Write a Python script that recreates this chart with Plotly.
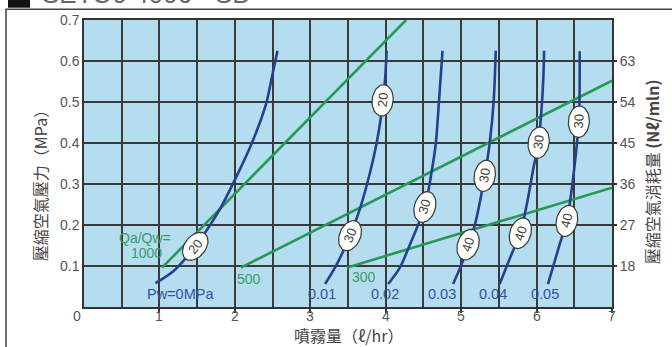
import numpy as np
import plotly.graph_objects as go

W, H = 672, 347
ML, MR, MT, MB = 84, 60, 15, 40
X_MAX, Y_MAX = 7.0, 0.7
PX_X = (W - ML - MR) / X_MAX
PX_Y = (H - MT - MB) / Y_MAX

BLUE = "#283f8e"
GREEN = "#27985a"
BG = "#b4def0"
GRID = "#3a3a3a"
TICK = "#555555"
FONT = "Liberation Sans"
CJK = "Noto Sans CJK TC"

# water pressure curves (x: spray l/hr, y: air pressure MPa)
pw_names = ["Pw=0MPa", "0.01", "0.02", "0.03", "0.04", "0.05"]
pw_x = [
    [0.946, 1.188, 1.475, 1.806, 2.005, 2.226, 2.415, 2.490, 2.565],
    [3.196, 3.351, 3.527, 3.659, 3.792, 3.880, 3.937, 3.959, 3.990, 4.012],
    [4.033, 4.188, 4.320, 4.519, 4.607, 4.665, 4.704, 4.753],
    [4.893, 5.005, 5.092, 5.181, 5.313, 5.379, 5.432, 5.459],
    [5.511, 5.660, 5.785, 5.870, 5.960, 6.025, 6.065, 6.090, 6.100],
    [6.151, 6.305, 6.402, 6.461, 6.527, 6.561, 6.570, 6.572],
]
pw_y = [
    [0.058, 0.088, 0.148, 0.240, 0.312, 0.400, 0.496, 0.560, 0.625],
    [0.056, 0.104, 0.174, 0.240, 0.328, 0.400, 0.464, 0.504, 0.552, 0.625],
    [0.056, 0.096, 0.152, 0.244, 0.328, 0.400, 0.496, 0.625],
    [0.056, 0.104, 0.152, 0.200, 0.320, 0.400, 0.504, 0.625],
    [0.056, 0.125, 0.180, 0.250, 0.340, 0.400, 0.480, 0.560, 0.625],
    [0.056, 0.152, 0.210, 0.280, 0.384, 0.452, 0.520, 0.624],
]
pw_label_x = [1.277, 3.156, 3.99, 4.744, 5.419, 6.107]
pw_label_y = 0.031

# Qa/Qw ratio lines
ratio_names = ["1000", "500", "300"]
ratio_x = [[1.035, 4.27], [2.080, 7.0], [3.483, 7.0]]
ratio_y = [[0.096, 0.70], [0.096, 0.552], [0.096, 0.291]]
ratio_label_x = [0.827, 2.19, 3.712]
ratio_label_y = [0.131, 0.069, 0.074]

# oval markers on the curves (curve index, x, y, text)
oval_curve = [0, 1, 1, 2, 3, 3, 4, 4, 5, 5]
oval_x = [1.475, 3.527, 3.959, 4.519, 5.092, 5.313, 5.785, 6.028, 6.402, 6.561]
oval_y = [0.148, 0.174, 0.504, 0.244, 0.152, 0.320, 0.180, 0.401, 0.210, 0.452]
oval_text = ["20", "30", "20", "30", "40", "30", "40", "30", "40", "30"]

left_ticks = [0.1, 0.2, 0.3, 0.4, 0.5, 0.6, 0.7]
right_ticks = [18, 27, 36, 45, 54, 63]
x_ticks = [1, 2, 3, 4, 5, 6, 7]


def tangent_deg(xs, ys, y, h=0.02):
    x1 = np.interp(y - h, ys, xs)
    x2 = np.interp(y + h, ys, xs)
    return np.degrees(np.arctan2(2 * h * PX_Y, (x2 - x1) * PX_X))


def ellipse(cx, cy, theta, a=16.0, b=10.5, n=48):
    t = np.linspace(0, 2 * np.pi, n)
    th = np.radians(theta)
    dx = a * np.cos(t) * np.cos(th) - b * np.sin(t) * np.sin(th)
    dy = a * np.cos(t) * np.sin(th) + b * np.sin(t) * np.cos(th)
    return cx + dx / PX_X, cy + dy / PX_Y


def px_to_paper(px, py):
    return (px - ML) / (W - ML - MR), (H - MB - py) / (H - MT - MB)


def paper_note(px, py, text, size, family=FONT, color=TICK, angle=0, xanchor="center"):
    x, y = px_to_paper(px, py)
    return dict(x=x, y=y, xref="paper", yref="paper", text=text, showarrow=False,
                xanchor=xanchor, yanchor="middle", textangle=angle,
                font=dict(family=family, size=size, color=color))


fig = go.Figure()

for xs, ys in zip(ratio_x, ratio_y):
    fig.add_trace(go.Scatter(x=xs, y=ys, mode="lines",
                             line=dict(color=GREEN, width=2.6), hoverinfo="skip"))

for xs, ys in zip(pw_x, pw_y):
    fig.add_trace(go.Scatter(x=xs, y=ys, mode="lines",
                             line=dict(color=BLUE, width=2.6, shape="spline", smoothing=0.8),
                             hoverinfo="skip"))

annotations = []
for ci, ox, oy, txt in zip(oval_curve, oval_x, oval_y, oval_text):
    th = tangent_deg(pw_x[ci], pw_y[ci], oy)
    ex, ey = ellipse(ox, oy, th)
    fig.add_trace(go.Scatter(x=ex, y=ey, mode="lines", fill="toself",
                             fillcolor="#fdfdfa", line=dict(color="#3a3a3a", width=1.2),
                             hoverinfo="skip"))
    annotations.append(dict(x=ox, y=oy, xref="x", yref="y", text=txt, showarrow=False,
                            textangle=-th, font=dict(family=FONT, size=13, color="#444")))

fig.add_trace(go.Scatter(x=[0], y=[9], yaxis="y2", mode="markers",
                         marker=dict(opacity=0), hoverinfo="skip"))

for name, lx in zip(pw_names, pw_label_x):
    annotations.append(dict(x=lx, y=pw_label_y, xref="x", yref="y", text=name, showarrow=False,
                            font=dict(family=FONT, size=14.5, color="#34509e")))

annotations.append(dict(x=0.814, y=0.168, xref="x", yref="y", text="Qa/Qw=", showarrow=False,
                        font=dict(family=FONT, size=14, color="#3a9a6a")))
for name, lx, ly in zip(ratio_names, ratio_label_x, ratio_label_y):
    annotations.append(dict(x=lx, y=ly, xref="x", yref="y", text=name, showarrow=False,
                            font=dict(family=FONT, size=14, color="#3a9a6a")))

# x tick labels (placed close to the axis like the original)
_, ty = px_to_paper(0, 316.5)
for v in [0] + x_ticks:
    annotations.append(dict(x=v, y=ty, xref="x", yref="paper", text=str(v), showarrow=False,
                            xanchor="center", yanchor="middle", xshift=-7 if v == 0 else 0,
                            font=dict(family=FONT, size=14, color=TICK)))

# axis titles
annotations.append(paper_note(349, 335, "噴霧量（ℓ/hr）", 16, CJK, "#444"))
annotations.append(paper_note(40, 180, "壓縮空氣壓力（MPa）", 16, CJK, "#444", angle=-90))
annotations.append(paper_note(652, 170, "壓縮空氣消耗量 <b>(Nℓ/mln)</b>", 16, CJK, "#444", angle=-90))
# clipped header text at the very top
annotations.append(paper_note(40, -11, "SETO0 4006 - SD", 26, FONT, "#666", xanchor="left"))

shapes = []
x0, y0 = px_to_paper(6, 4)
x1, y1 = px_to_paper(700, 380)
shapes.append(dict(type="rect", xref="paper", yref="paper", x0=x0, y0=y1, x1=x1, y1=y0,
                   line=dict(color="#444", width=1.5), layer="below"))
x0, y0 = px_to_paper(8, -6)
x1, y1 = px_to_paper(30, 2.5)
shapes.append(dict(type="rect", xref="paper", yref="paper", x0=x0, y0=y0, x1=x1, y1=y1,
                   fillcolor="#111", line=dict(width=0)))

fig.update_layout(
    width=W, height=H,
    margin=dict(l=ML, r=MR, t=MT, b=MB, pad=0),
    paper_bgcolor="white",
    plot_bgcolor=BG,
    showlegend=False,
    annotations=annotations,
    shapes=shapes,
    xaxis=dict(
        range=[0, X_MAX], tickvals=x_ticks, ticks="outside", ticklen=4, tickwidth=1.5,
        tickcolor="#333", showticklabels=False, showgrid=True, gridcolor=GRID, gridwidth=1.5,
        minor=dict(tick0=0, dtick=0.5, showgrid=True, gridcolor=GRID, gridwidth=1.5, ticks=""),
        showline=True, linecolor="#333", linewidth=1.5, mirror=True, zeroline=False,
    ),
    yaxis=dict(
        range=[0, Y_MAX], tickvals=left_ticks, ticktext=[f"{v:.1f}" for v in left_ticks],
        ticks="", showgrid=True, gridcolor=GRID, gridwidth=1.5,
        showline=True, linecolor="#333", linewidth=1.5, mirror=True, zeroline=False,
        tickfont=dict(family=FONT, size=14, color=TICK),
    ),
    yaxis2=dict(
        range=[9, 72], overlaying="y", side="right", tickvals=right_ticks,
        ticks="outside", ticklen=4, tickwidth=1.5, tickcolor="#333",
        showgrid=False, zeroline=False, showline=False,
        tickfont=dict(family=FONT, size=14, color=TICK),
    ),
)

fig.write_html("out.html", config={"displayModeBar": False},
               post_script="document.body.style.margin='0px';")
